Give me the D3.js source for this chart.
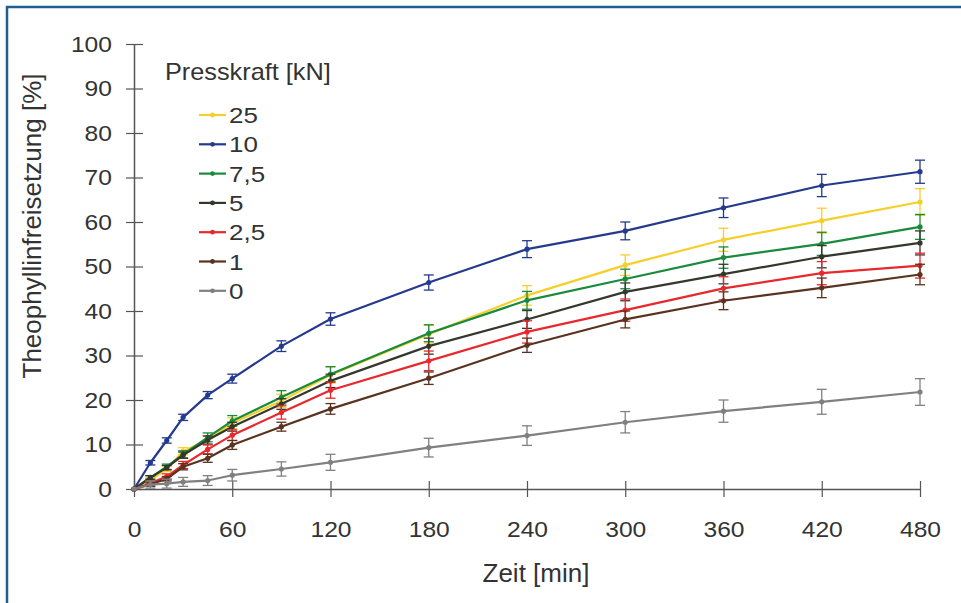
<!DOCTYPE html>
<html>
<head>
<meta charset="utf-8">
<script src="https://cdn.jsdelivr.net/npm/d3@7"></script>
<style>
  html, body { margin: 0; padding: 0; background: #fff; }
  svg { display: block; }
  text { font-family: "Liberation Sans", Arial, sans-serif; fill: #333; }
</style>
</head>
<body>
<svg id="chart" width="961" height="603"></svg>
<script>
// ---- data ----
const times = [0, 10, 20, 30, 45, 60, 90, 120, 180, 240, 300, 360, 420, 480];
const seriesNames = ["25", "10", "7,5", "5", "2,5", "1", "0"];
const seriesColors = ["#f5cf2a", "#243a8c", "#1a8a3c", "#34382c", "#e8282c", "#5a3220", "#808080"];

const v25  = [0, 2.0, 4.5, 8.5, 11.0, 14.8, 19.8, 25.6, 34.8, 43.5, 50.3, 56.0, 60.3, 64.5];
const v10  = [0, 5.9, 10.9, 16.1, 21.1, 24.8, 32.1, 38.2, 46.4, 53.9, 58.0, 63.2, 68.2, 71.3];
const v7_5 = [0, 2.5, 5.0, 7.8, 11.6, 15.3, 20.6, 25.8, 35.0, 42.4, 47.2, 52.0, 55.1, 58.9];
const v5   = [0, 2.6, 4.8, 7.6, 11.0, 14.0, 19.1, 24.3, 32.1, 38.1, 44.3, 48.3, 52.2, 55.3];
const v2_5 = [0, 1.3, 2.8, 5.4, 8.9, 12.1, 17.2, 22.2, 28.8, 35.3, 40.2, 45.1, 48.5, 50.2];
const v1   = [0, 1.0, 2.3, 5.0, 6.9, 9.9, 14.0, 18.0, 24.9, 32.3, 38.1, 42.3, 45.2, 48.2];
const v0   = [0, 1.0, 1.2, 1.6, 1.9, 3.1, 4.5, 6.0, 9.3, 12.0, 15.0, 17.5, 19.6, 21.8];

const e25  = [0, 0.5, 0.6, 0.8, 1.0, 1.2, 1.5, 1.8, 2.0, 2.2, 2.3, 2.6, 2.8, 3.0];
const e10  = [0, 0.5, 0.6, 0.7, 0.8, 1.0, 1.2, 1.4, 1.7, 1.9, 2.0, 2.2, 2.5, 2.6];
const e7_5 = [0, 0.5, 0.6, 0.8, 1.0, 1.2, 1.5, 1.7, 1.9, 2.0, 2.2, 2.4, 2.6, 2.8];
const e5   = [0, 0.4, 0.5, 0.7, 0.9, 1.0, 1.2, 1.5, 1.8, 2.0, 2.0, 2.2, 2.5, 2.7];
const e2_5 = [0, 0.4, 0.6, 0.8, 1.0, 1.2, 1.5, 1.8, 2.2, 2.5, 2.5, 2.6, 2.6, 2.8];
const e1   = [0, 0.4, 0.5, 0.7, 0.9, 1.0, 1.0, 1.2, 1.4, 1.6, 1.9, 2.0, 2.2, 2.3];
const e0   = [0, 0.8, 1.0, 1.0, 1.1, 1.3, 1.6, 1.8, 2.1, 2.2, 2.4, 2.5, 2.8, 3.0];

const xTicks = [0, 60, 120, 180, 240, 300, 360, 420, 480];
const yTicks = [0, 10, 20, 30, 40, 50, 60, 70, 80, 90, 100];

const xTitle = "Zeit [min]";
const yTitle = "Theophyllinfreisetzung [%]";
const legendTitle = "Presskraft [kN]";

const seriesValues = [v25, v10, v7_5, v5, v2_5, v1, v0];
const seriesErrors = [e25, e10, e7_5, e5, e2_5, e1, e0];

// ---- layout ----
const svg = d3.select("#chart");
const W = 961, H = 603;
const kTick = 1.12, kLeg = 1.18, kTitle = 1.1;

// frame
svg.append("rect").attr("x", 7).attr("y", 7).attr("width", W + 20).attr("height", H + 20)
  .attr("fill", "none").attr("stroke", "#1f5f92").attr("stroke-width", 2.5);

const x = d3.scaleLinear().domain([0, 480]).range([134, 920]);
const y = d3.scaleLinear().domain([0, 100]).range([489, 44]);

const axisColor = "#555";

// x axis
const gx = svg.append("g").attr("transform", `translate(0,${y(0)})`)
  .call(d3.axisBottom(x).tickValues(xTicks).tickSizeInner(8).tickSizeOuter(0).tickPadding(24));
gx.selectAll(".tick line").attr("y1", -8).attr("stroke", axisColor).attr("stroke-width", 1.2);
gx.select(".domain").attr("stroke", axisColor).attr("stroke-width", 1.5);
gx.selectAll(".tick text").attr("font-size", 22).attr("fill", "#333")
  .attr("font-family", "Liberation Sans, Arial, sans-serif")
  .attr("transform", `scale(${kTick},1)`);

// y axis
const gy = svg.append("g").attr("transform", `translate(${x(0)},0)`)
  .call(d3.axisLeft(y).tickValues(yTicks).tickSizeInner(8).tickSizeOuter(0).tickPadding(14));
gy.selectAll(".tick line").attr("x1", 9).attr("stroke", axisColor).attr("stroke-width", 1.2);
gy.select(".domain").attr("stroke", axisColor).attr("stroke-width", 1.5);
gy.selectAll(".tick text").attr("font-size", 22).attr("fill", "#333")
  .attr("font-family", "Liberation Sans, Arial, sans-serif")
  .attr("x", -22 / kTick)
  .attr("transform", `scale(${kTick},1)`);

// axis titles
svg.append("text").attr("x", 536).attr("y", 582).attr("text-anchor", "middle")
  .attr("font-size", 26).text(xTitle);
svg.append("text").attr("transform", `translate(41,226) rotate(-90)`)
  .attr("text-anchor", "middle").attr("font-size", 26).text(yTitle);

// series
const line = d3.line().x((d, i) => x(times[i])).y(d => y(d));
seriesValues.forEach((vals, s) => {
  const c = seriesColors[s];
  const g = svg.append("g");
  const errs = seriesErrors[s];
  const eb = g.selectAll("g.eb").data(vals.map((v, i) => ({t: times[i], v, e: errs[i]})).filter(d => d.e > 0))
    .join("g");
  eb.append("line").attr("x1", d => x(d.t)).attr("x2", d => x(d.t))
    .attr("y1", d => y(d.v - d.e)).attr("y2", d => y(d.v + d.e))
    .attr("stroke", c).attr("stroke-width", 1.3);
  eb.append("line").attr("x1", d => x(d.t) - 5).attr("x2", d => x(d.t) + 5)
    .attr("y1", d => y(d.v + d.e)).attr("y2", d => y(d.v + d.e))
    .attr("stroke", c).attr("stroke-width", 1.3);
  eb.append("line").attr("x1", d => x(d.t) - 5).attr("x2", d => x(d.t) + 5)
    .attr("y1", d => y(d.v - d.e)).attr("y2", d => y(d.v - d.e))
    .attr("stroke", c).attr("stroke-width", 1.3);
  g.append("path").datum(vals).attr("d", line).attr("fill", "none")
    .attr("stroke", c).attr("stroke-width", 2.2).attr("stroke-linejoin", "round");
  g.selectAll("circle").data(vals).join("circle")
    .attr("cx", (d, i) => x(times[i])).attr("cy", d => y(d)).attr("r", 2.6).attr("fill", c);
});

// legend
svg.append("text").attr("transform", `translate(165,80) scale(${kTitle},1)`)
  .attr("font-size", 23).text(legendTitle);
const leg = svg.append("g");
seriesNames.forEach((n, i) => {
  const cy = 115 + i * 29.3;
  leg.append("line").attr("x1", 199).attr("x2", 226).attr("y1", cy).attr("y2", cy)
    .attr("stroke", seriesColors[i]).attr("stroke-width", 2.2);
  leg.append("circle").attr("cx", 212.5).attr("cy", cy).attr("r", 2.4).attr("fill", seriesColors[i]);
  leg.append("text").attr("transform", `translate(229,${cy + 8}) scale(${kLeg},1)`)
    .attr("font-size", 22).text(n);
});
</script>
</body>
</html>
